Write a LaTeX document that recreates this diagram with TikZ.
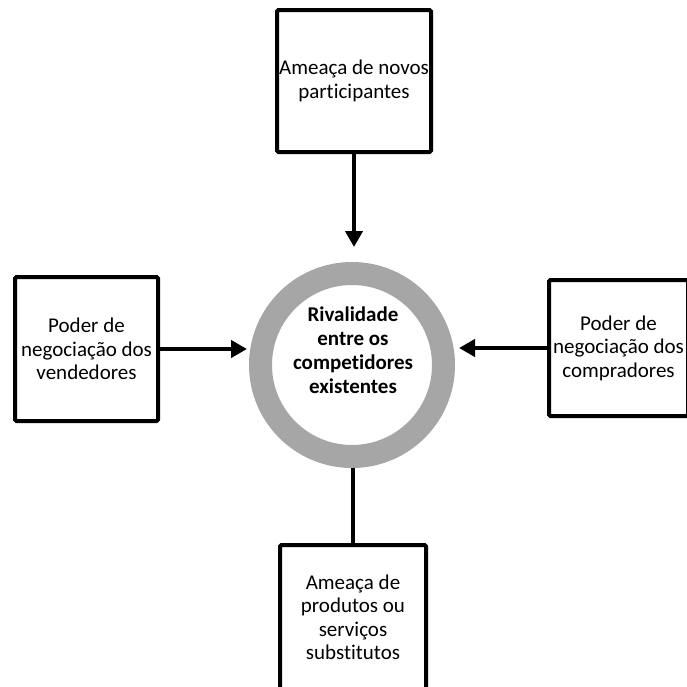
\documentclass[tikz,border=0pt]{standalone}
\usepackage{fontspec}
\setmainfont{Carlito}[Ligatures=NoCommon]
\usetikzlibrary{arrows.meta}
\begin{document}
\begin{tikzpicture}[x=1pt,y=-1pt,
  force/.style={draw=black, line width=4pt, rounded corners=1.5pt, fill=white,
    align=center, inner sep=0pt,
    font=\fontsize{21}{23.5}\selectfont},
  link/.style={draw=black, line width=4pt},
  push/.style={link, -{Triangle[length=16pt,width=17pt]}},
  ringstyle/.style={circle, draw={rgb,255:red,166;green,166;blue,166},
    line width=23pt, minimum size=183pt, inner sep=0pt, fill=white}]
  \useasboundingbox (0,0) rectangle (687,686);
  \clip (0,0) rectangle (687,686);

  % the five forces
  \node[force, minimum width=154pt, minimum height=142pt] (T) at (354,81)
    {Ameaça de novos\\participantes};
  \node[force, minimum width=143pt, minimum height=144pt] (L) at (86.5,349)
    {Poder de\\negociação dos\\vendedores};
  \node[force, minimum width=139pt, minimum height=136pt] (R) at (618.5,348)
    {Poder de\\negociação dos\\compradores};
  \node[force, minimum width=146pt, minimum height=145pt] (B) at (353,617.5)
    {Ameaça de\\produtos ou\\serviços\\substitutos};

  % central rivalry ring
  \node[ringstyle] (ring) at (352,365) {};
  \node[align=center, font=\bfseries\fontsize{21}{24}\selectfont] (rtxt) at (353,350)
    {Rivalidade\\entre os\\competidores\\existentes};

  % connectors
  \draw[push, shorten >=15pt] (T.south) -- (T.south |- ring.north);
  \draw[push, shorten >=2pt] (L.east) -- (L.east -| ring.west);
  \draw[push, shorten >=4pt] (R.west) -- (R.west -| ring.east);
  \draw[link] (B.north |- ring.south) -- (B.north);
\end{tikzpicture}
\end{document}
